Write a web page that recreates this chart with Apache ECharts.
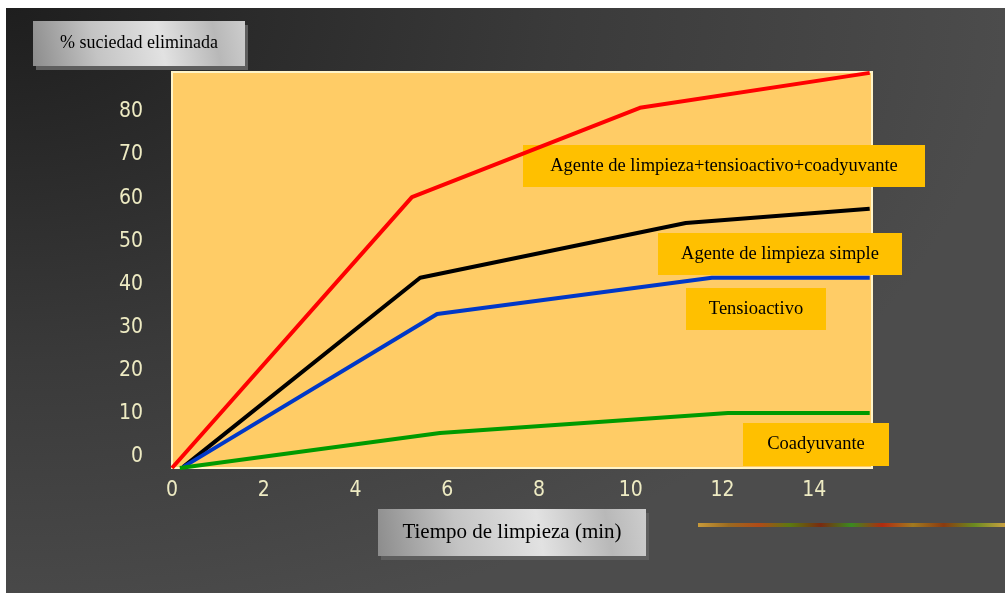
<!DOCTYPE html>
<html>
<head>
<meta charset="utf-8">
<script src="https://cdn.jsdelivr.net/npm/echarts@6/dist/echarts.min.js"></script>
<style>
  html, body { margin: 0; padding: 0; background: #fff; }
  #bg {
    position: absolute; left: 6px; top: 8px; width: 999px; height: 585px;
    background: radial-gradient(ellipse 100% 110% at 0% 0%, #1e1e1e 0%, #3a3a3a 55%, #4c4c4c 100%);
  }
  #chart { position: absolute; left: 0; top: 0; width: 1005px; height: 593px; }
</style>
</head>
<body>
<div id="bg"></div>
<div id="chart"></div>
<script>
// ticks
const xTicks = [0, 2, 4, 6, 8, 10, 12, 14]
const yTicks = [0, 10, 20, 30, 40, 50, 60, 70, 80]

// series: [tiempo (min), % suciedad eliminada]
const agenteCompleto = [[0, 0], [5.23, 62.8], [10.2, 83.5], [15.21, 91.6]]
const agenteSimple = [[0.24, 0.2], [5.41, 44.1], [11.2, 56.8], [15.21, 60.1]]
const tensioactivo = [[0.24, 0.2], [5.78, 35.7], [11.77, 44.1], [15.21, 44.1]]
const coadyuvante = [[0.17, 0], [5.84, 8.1], [12.12, 12.75], [15.21, 12.75]]

const seriesNames = [
  'Agente de limpieza+tensioactivo+coadyuvante',
  'Agente de limpieza simple',
  'Tensioactivo',
  'Coadyuvante'
]

var myChart = echarts.init(document.getElementById('chart'))

const axisFont = "'Liberation Sans Narrow', 'DejaVu Sans Condensed', sans-serif"
const serif = "'Liberation Serif', 'DejaVu Serif', serif"

// caja naranja con texto
function tag(x, y, w, h, text) {
  return {
    type: 'group',
    z: 100,
    children: [
      { type: 'rect', shape: { x: x, y: y, width: w, height: h }, style: { fill: '#FFC000' } },
      {
        type: 'text',
        style: {
          x: x + w / 2, y: y + h / 2, text: text,
          fontFamily: serif, fontSize: 18.5, fill: '#000',
          align: 'center', verticalAlign: 'middle'
        }
      }
    ]
  }
}

// boton gris
function button(x, y, w, h, text, size) {
  return {
    type: 'group',
    z: 100,
    children: [
      { type: 'rect', shape: { x: x + 3, y: y + 4, width: w, height: h }, style: { fill: '#5e5e5e' } },
      {
        type: 'rect',
        shape: { x: x, y: y, width: w, height: h },
        style: {
          fill: new echarts.graphic.LinearGradient(0, 1, 1, 0, [
            { offset: 0, color: '#8c8c8c' },
            { offset: 0.3, color: '#c4c4c4' },
            { offset: 0.6, color: '#e2e2e2' },
            { offset: 0.85, color: '#b8b8b8' },
            { offset: 1, color: '#cdcdcd' }
          ])
        }
      },
      {
        type: 'text',
        style: {
          x: x + w / 2, y: y + h / 2, text: text,
          fontFamily: serif, fontSize: size, fill: '#000',
          align: 'center', verticalAlign: 'middle'
        }
      }
    ]
  }
}

let option = {
  animation: false,
  grid: {
    left: 172,
    top: 72,
    right: 133,
    bottom: 125,
    show: true,
    backgroundColor: '#FFCC66',
    borderColor: '#FFF4C8',
    borderWidth: 2
  },
  xAxis: {
    type: 'value',
    min: 0,
    max: 15.26,
    axisLine: { show: false },
    axisTick: { show: false },
    splitLine: { show: false },
    axisLabel: {
      customValues: xTicks,
      color: '#EEEBC3',
      fontFamily: axisFont,
      fontSize: 21,
      margin: 12
    }
  },
  yAxis: {
    type: 'value',
    min: 0,
    max: 91.8,
    axisLine: { show: false },
    axisTick: { show: false },
    splitLine: { show: false },
    axisLabel: {
      customValues: yTicks,
      color: '#EEEBC3',
      fontFamily: axisFont,
      fontSize: 21,
      margin: 29,
      lineHeight: 22,
      verticalAlign: 'bottom'
    }
  },
  series: [
    { name: seriesNames[0], type: 'line', data: agenteCompleto, color: '#FF0000' },
    { name: seriesNames[1], type: 'line', data: agenteSimple, color: '#000000' },
    { name: seriesNames[2], type: 'line', data: tensioactivo, color: '#0038C8' },
    { name: seriesNames[3], type: 'line', data: coadyuvante, color: '#009A00' }
  ].map(function (s) {
    s.symbol = 'none'
    s.lineStyle = { width: 4, color: s.color }
    return s
  }),
  graphic: [
    button(33, 21, 212, 45, '% suciedad eliminada', 18),
    button(378, 509, 268, 47, 'Tiempo de limpieza (min)', 21),
    tag(523, 145, 402, 42, seriesNames[0]),
    tag(658, 233, 244, 42, seriesNames[1]),
    tag(686, 288, 140, 42, seriesNames[2]),
    tag(743, 423, 146, 43, seriesNames[3]),
    {
      type: 'rect',
      z: 100,
      shape: { x: 698, y: 523, width: 307, height: 4 },
      style: {
        fill: new echarts.graphic.LinearGradient(0, 0, 1, 0, [
          { offset: 0, color: '#c89a3a' },
          { offset: 0.1, color: '#9a6a20' },
          { offset: 0.2, color: '#b04a18' },
          { offset: 0.3, color: '#5a7a10' },
          { offset: 0.4, color: '#7a2a10' },
          { offset: 0.5, color: '#3a8a20' },
          { offset: 0.6, color: '#b02a10' },
          { offset: 0.7, color: '#a07a20' },
          { offset: 0.8, color: '#8a3a10' },
          { offset: 0.9, color: '#6a8a20' },
          { offset: 1, color: '#c8a040' }
        ])
      }
    }
  ]
}

myChart.setOption(option)
window.onresize = function () {
  myChart.resize()
}
</script>
</body>
</html>
